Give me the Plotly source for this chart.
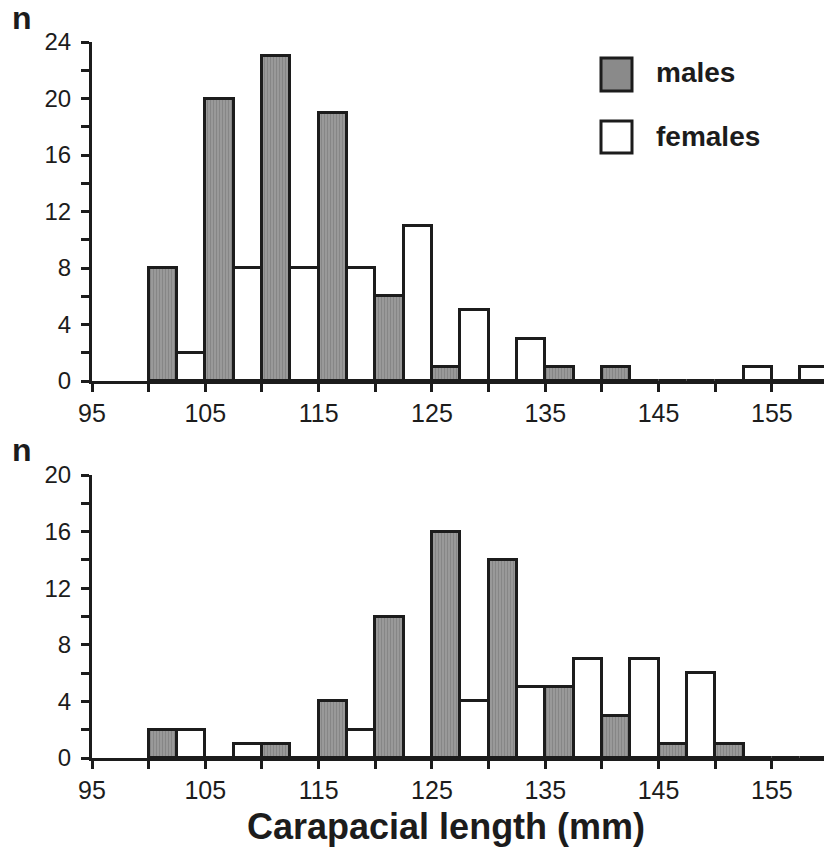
import plotly.graph_objects as go

# ---------------- data ----------------
bin_starts = [100, 105, 110, 115, 120, 125, 130, 135, 140, 145, 150, 155]
bin_width = 5

top_males = [8, 20, 23, 19, 6, 1, 0, 1, 1, 0, 0, 0]
top_females = [2, 8, 8, 8, 11, 5, 3, 0, 0, 0, 1, 1]

bottom_males = [2, 0, 1, 4, 10, 16, 14, 5, 3, 1, 1, 0]
bottom_females = [2, 1, 0, 2, 0, 4, 5, 7, 7, 6, 0, 0]

series_names = ["males", "females"]
x_title = "Carapacial length (mm)"
y_label = "n"

# ---------------- styling ----------------
W, H = 824, 849
ML = 92
FONT = "Liberation Sans, Arial, Helvetica, sans-serif"
INK = "#1c1c1c"
MALE_FILL = "#8a8a8a"
FEMALE_FILL = "#ffffff"

centers = [b + bin_width / 2 for b in bin_starts]


def px_y(py):
    return 1 - py / H


def px_x(px):
    return (px - ML) / (W - ML)


fig = go.Figure()

panels = [
    ("x", "y", top_males, top_females),
    ("x2", "y2", bottom_males, bottom_females),
]
for xa, ya, m, f in panels:
    fig.add_trace(go.Bar(
        x=centers, y=m, name=series_names[0], xaxis=xa, yaxis=ya,
        marker=dict(color=MALE_FILL, line=dict(color=INK, width=3),
                    pattern=dict(shape="|", fgcolor="#707070", bgcolor="#9c9c9c",
                                 size=3, solidity=0.45)),
        offsetgroup="m", showlegend=False, hoverinfo="x+y",
    ))
    fig.add_trace(go.Bar(
        x=centers, y=f, name=series_names[1], xaxis=xa, yaxis=ya,
        marker=dict(color=FEMALE_FILL, line=dict(color=INK, width=3)),
        offsetgroup="f", showlegend=False, hoverinfo="x+y",
    ))

xcommon = dict(
    range=[95, 159.6], tick0=95, dtick=10, ticks="outside", ticklen=8,
    tickwidth=3, tickcolor=INK, showline=True, linecolor=INK, linewidth=3,
    showgrid=False, zeroline=False,
    minor=dict(tick0=95, dtick=5, ticks="outside", ticklen=8, tickwidth=3,
               tickcolor=INK, showgrid=False),
    tickfont=dict(family=FONT, size=25, color=INK),
    automargin=False,
)
ycommon = dict(
    ticks="outside", ticklen=8, tickwidth=3, tickcolor=INK, showline=True,
    linecolor=INK, linewidth=3, showgrid=False, zeroline=False, dtick=4,
    minor=dict(dtick=2, ticks="outside", ticklen=8, tickwidth=3,
               tickcolor=INK, showgrid=False),
    tickfont=dict(family=FONT, size=24, color=INK),
    automargin=False, ticklabelstandoff=5,
)

fig.update_layout(
    width=W, height=H,
    margin=dict(l=ML, r=0, t=0, b=0),
    paper_bgcolor="white", plot_bgcolor="white",
    barmode="group", bargap=0, bargroupgap=0,
    xaxis=dict(**xcommon, domain=[0, 1], anchor="y"),
    yaxis=dict(**ycommon, range=[0, 24], domain=[px_y(381), px_y(42)], anchor="x"),
    xaxis2=dict(**xcommon, domain=[0, 1], anchor="y2"),
    yaxis2=dict(**ycommon, range=[0, 20], domain=[px_y(758), px_y(475)], anchor="x2"),
    showlegend=False,
)

# custom legend (large boxes like the reference)
legend_rows = [(series_names[0], MALE_FILL, 58, 91, 73),
               (series_names[1], FEMALE_FILL, 121, 153, 136)]
for name, fill, top, bot, ty in legend_rows:
    fig.add_shape(type="rect", xref="paper", yref="paper",
                  x0=px_x(601), x1=px_x(632), y0=px_y(bot), y1=px_y(top),
                  fillcolor=fill, line=dict(color=INK, width=3))
    fig.add_annotation(text=f"<b>{name}</b>", xref="paper", yref="paper",
                       x=px_x(654), y=px_y(ty), xanchor="left", yanchor="middle",
                       showarrow=False, font=dict(family=FONT, size=28, color=INK))

# "n" labels
for py in (18, 450):
    fig.add_annotation(text=f"<b>{y_label}</b>", xref="paper", yref="paper",
                       x=px_x(22), y=px_y(py), xanchor="center", yanchor="middle",
                       showarrow=False, font=dict(family=FONT, size=32, color=INK))

# x title
fig.add_annotation(text=f"<b>{x_title}</b>", xref="paper", yref="paper",
                   x=px_x(446), y=px_y(826), xanchor="center", yanchor="middle",
                   showarrow=False, font=dict(family=FONT, size=36, color=INK))

fig.write_html("out.html",
               config={"displayModeBar": False},
               post_script="document.body.style.margin='0';document.body.style.overflow='hidden';")
